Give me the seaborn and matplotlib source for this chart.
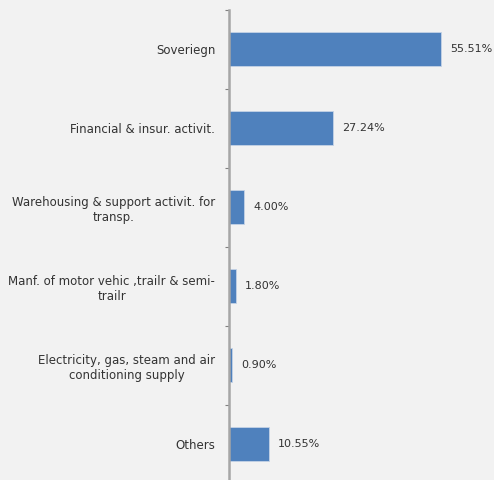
import matplotlib
matplotlib.use("Agg")
import matplotlib.pyplot as plt
import numpy as np
import pandas as pd
import seaborn as sns

sectors = [
    "Soveriegn",
    "Financial & insur. activit.",
    "Warehousing & support activit. for\ntransp.",
    "Manf. of motor vehic ,trailr & semi-\ntrailr",
    "Electricity, gas, steam and air\nconditioning supply",
    "Others",
]
shares = [55.51, 27.24, 4.00, 1.80, 0.90, 10.55]

BG = "#f2f2f2"
TEXT = "#333333"

sns.set_theme(style="white")
plt.rcParams["font.family"] = ["DejaVu Sans"]

df = pd.DataFrame({"sector": sectors, "share": shares})

fig = plt.figure(figsize=(4.94, 4.80), dpi=100, facecolor=BG)
ax = fig.add_axes([0.4636, -0.0083, 0.4636, 0.9875])
ax.set_facecolor(BG)

sns.barplot(data=df, y="sector", x="share", orient="h", color="#4f81bd",
            width=0.43, saturation=1, edgecolor="#c5d3e6", linewidth=0.6, ax=ax)

ax.bar_label(ax.containers[0], labels=[f"{v:.2f}%" for v in shares],
             padding=6.5, fontsize=8, color=TEXT)

ax.set_xlim(0, 60)
ax.set_ylim(len(sectors) - 0.5, -0.5)
ax.set_xlabel("")
ax.set_ylabel("")
ax.set_xticks([])

for s in ["top", "right", "bottom"]:
    ax.spines[s].set_visible(False)
ax.spines["left"].set_color("#a6a6a6")
ax.spines["left"].set_linewidth(1.8)

ax.set_yticks(np.arange(len(sectors)))
ax.set_yticklabels(sectors, fontsize=8.5, color=TEXT, multialignment="center")
ax.tick_params(axis="y", which="major", left=True, length=0, pad=10)
ax.set_yticks(np.arange(len(sectors) + 1) - 0.5, minor=True)
ax.tick_params(axis="y", which="minor", left=True, length=3, width=0.8,
               color="#808080", direction="out")

fig.savefig("out.png", dpi=100, facecolor=BG)
